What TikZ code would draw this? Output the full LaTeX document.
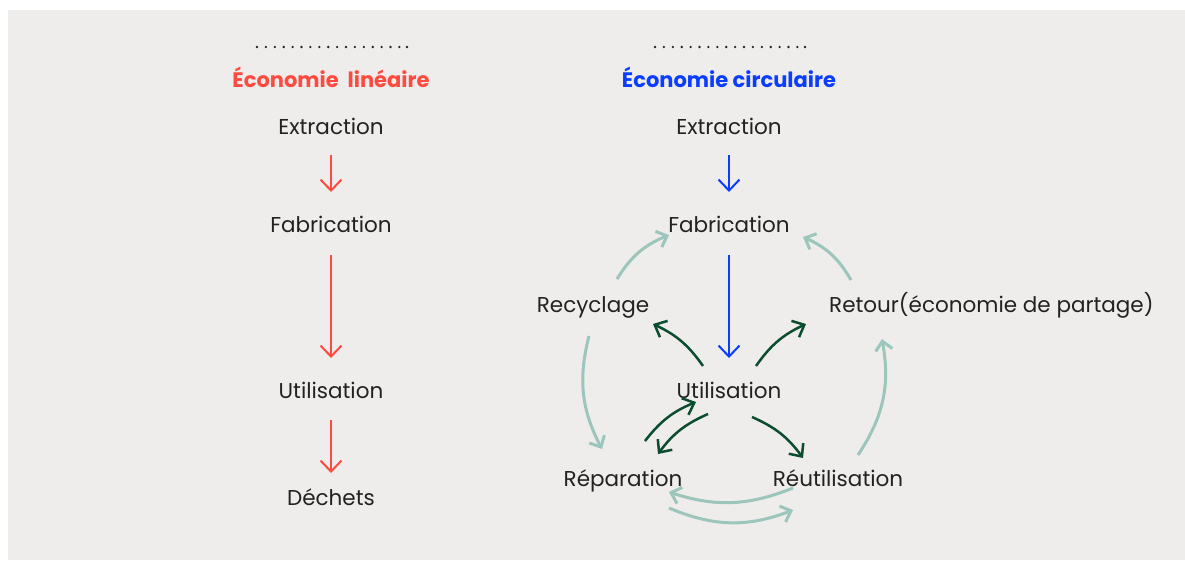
\documentclass[tikz,border=0pt]{standalone}
\usepackage{fontspec}
\setmainfont{Poppins}
\usetikzlibrary{arrows.meta,calc}
\definecolor{bgc}{HTML}{EFEDEB}
\definecolor{redc}{HTML}{FF4A3F}
\definecolor{bluec}{HTML}{0A3DFF}
\definecolor{txtc}{HTML}{222222}
\definecolor{darkg}{HTML}{0B4D2F}
\definecolor{tealc}{HTML}{9CC5BB}
\tikzset{
  lbl/.style={font=\fontsize{21.5}{24}\selectfont, text=txtc, inner sep=0pt, anchor=base},
  ttl/.style={font=\fontsize{21}{24}\selectfont\bfseries, inner sep=0pt, anchor=base},
  redarr/.style={draw=redc, line width=2pt, -{Straight Barb[length=11pt,width=21pt,line width=2pt]}},
  bluearr/.style={draw=bluec, line width=2pt, -{Straight Barb[length=11pt,width=21pt,line width=2pt]}},
  grarr/.style={draw=darkg, line width=2.5pt, -{Straight Barb[length=10pt,width=18pt,line width=2.5pt]}},
  tlarr/.style={draw=tealc, line width=3pt, -{Straight Barb[length=9pt,width=17pt,line width=3pt]}},
  dotc/.style={fill=txtc, draw=none}
}
\begin{document}
\begin{tikzpicture}[x=1pt,y=-1pt]
\useasboundingbox (0,0) rectangle (1185,560);
\fill[bgc] (8,10) rectangle (1185,560);
% dotted lines
\foreach \i in {0,...,16} {\fill[dotc] (257+8.9*\i,47) circle (1.3);}
\fill[dotc] (407,47) circle (1.3);
\foreach \i in {0,...,16} {\fill[dotc] (655+8.9*\i,47) circle (1.3);}
\fill[dotc] (805,47) circle (1.3);
% titles
\node[ttl, text=redc] (tL) at (331,87.5) {Économie\ \ linéaire};
\node[ttl, text=bluec] (tR) at (729,87.5) {Économie circulaire};
% left column
\node[lbl] (extL) at (331,134.5) {Extraction};
\node[lbl] (fabL) at (331,232.5) {Fabrication};
\node[lbl] (utiL) at (331,398.5) {Utilisation};
\node[lbl] (decL) at (331,505.5) {Déchets};
\draw[redarr] ($(extL.base)+(0,20.5)$) -- ($(fabL.base)+(0,-40.5)$);
\draw[redarr] ($(fabL.base)+(0,22.5)$) -- ($(utiL.base)+(0,-40.5)$);
\draw[redarr] ($(utiL.base)+(0,21.5)$) -- ($(decL.base)+(0,-32.5)$);
% right column
\node[lbl] (extR) at (729,134.5) {Extraction};
\node[lbl] (fabR) at (729,232.5) {Fabrication};
\node[lbl] (utiR) at (729,398.5) {Utilisation};
\node[lbl] (rec) at (593,312.5) {Recyclage};
\node[lbl, anchor=base west] (ret) at (829,312.5) {Retour(économie de partage)};
\node[lbl] (rep) at (623,486.5) {Réparation};
\node[lbl] (reu) at (838,486.5) {Réutilisation};
\draw[bluearr] ($(extR.base)+(0,20.5)$) -- ($(fabR.base)+(0,-40.5)$);
\draw[bluearr] ($(fabR.base)+(0,22.5)$) -- ($(utiR.base)+(0,-40.5)$);
% dark green arrows
\draw[grarr] ($(utiR.base)+(-26,-32.5)$) to[bend right=15] ($(rec.base)+(60,11.5)$);
\draw[grarr] ($(utiR.base)+(27,-32.5)$) to[bend left=15] ($(ret.base west)+(-23,11.5)$);
\draw[grarr] ($(rep.base)+(22,-45.5)$) to[bend left=15] ($(utiR.base)+(-33,3.5)$);
\draw[grarr] ($(utiR.base)+(-21,15.5)$) to[bend right=15] ($(rep.base)+(35,-32.5)$);
\draw[grarr] ($(utiR.base)+(23,18.5)$) to[bend left=15] ($(reu.base)+(-35,-28.5)$);
% teal arrows
\draw[tlarr] ($(rec.base)+(24,-33.5)$) to[bend left=18] ($(fabR.base)+(-60,2.5)$);
\draw[tlarr] ($(ret.base west)+(22,-32.5)$) to[bend right=18] ($(fabR.base)+(74,4.5)$);
\draw[tlarr] ($(rec.base)+(-4,23.5)$) to[bend right=21] ($(rep.base)+(-21,-37.5)$);
\draw[tlarr] ($(reu.base)+(20,-31.5)$) to[bend right=22] ($(ret.base west)+(53,26.5)$);
\draw[tlarr] ($(reu.base)+(-45,1.5)$) to[bend left=20] ($(rep.base)+(46,5.5)$);
\draw[tlarr] ($(rep.base)+(46,21.5)$) to[bend right=22] ($(reu.base)+(-45,23.5)$);
\end{tikzpicture}
\end{document}
